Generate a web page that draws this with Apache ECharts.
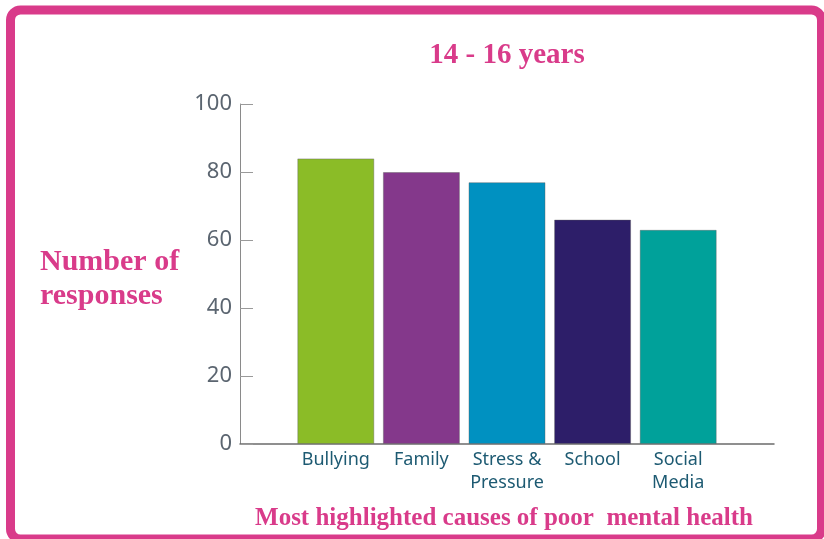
<!DOCTYPE html>
<html>
<head>
<meta charset="utf-8">
<script src="https://cdn.jsdelivr.net/npm/echarts@6/dist/echarts.min.js"></script>
<style>html,body{margin:0;padding:0;background:#fff}#c{width:824px;height:539px}</style>
</head>
<body>
<div id="c"></div>
<script>
const categories = ['Bullying', 'Family', 'Stress &\nPressure', 'School', 'Social\nMedia'];
const values = [84, 80, 77, 66, 63];
const barColors = ['#8bbc27', '#84388b', '#0091c1', '#2d1e69', '#00a19a'];
const yTicks = [0, 20, 40, 60, 80, 100];
const titleText = '14 - 16 years';
const yTitle = 'Number of\nresponses';
const xTitle = 'Most highlighted causes of poor  mental health';

const pink = '#d93b8a';
const chart = echarts.init(document.getElementById('c'), null, {renderer: 'canvas'});
chart.setOption({
  animation: false,
  backgroundColor: '#fff',
  title: [
    {text: titleText, left: 502, top: 36, textAlign: 'center',
     textStyle: {fontFamily: 'Liberation Serif', fontWeight: 900, fontSize: 29, color: pink}},
    {text: yTitle, left: 35, top: 240,
     textStyle: {fontFamily: 'Liberation Serif', fontWeight: 900, fontSize: 30, color: pink, lineHeight: 34}},
    {text: xTitle, left: 499, top: 501, textAlign: 'center',
     textStyle: {fontFamily: 'Liberation Serif', fontWeight: 900, fontSize: 25, color: pink}}
  ],
  graphic: [{
    type: 'rect', shape: {x: 10.5, y: 10, width: 811, height: 529, r: 10},
    style: {fill: 'none', stroke: pink, lineWidth: 9}, silent: true
  }],
  grid: [
    {left: 240, right: 50, top: 104, bottom: 95},
    {left: 293, width: 428, top: 104, bottom: 95}
  ],
  xAxis: [
    {type: 'value', gridIndex: 0, min: 0, max: 1,
     axisLine: {show: true, lineStyle: {color: '#6b6b6b', width: 1.5}},
     axisTick: {show: false}, axisLabel: {show: false}, splitLine: {show: false}},
    {type: 'category', gridIndex: 1, data: categories,
     axisLine: {show: false}, axisTick: {show: false},
     axisLabel: {color: '#1d5a72', fontFamily: 'Noto Sans', fontSize: 18, lineHeight: 23, margin: 4, interval: 0}}
  ],
  yAxis: [
    {type: 'value', gridIndex: 0, min: yTicks[0], max: yTicks[yTicks.length - 1], interval: 20,
     axisLine: {show: true, lineStyle: {color: '#8a8a8a', width: 1}},
     axisTick: {show: true, inside: true, length: 13, lineStyle: {color: '#9a9a9a'}},
     axisLabel: {color: '#5b6570', fontFamily: 'Noto Sans', fontSize: 22, margin: 8},
     splitLine: {show: false}},
    {type: 'value', gridIndex: 1, min: 0, max: 100, show: false, splitLine: {show: false}}
  ],
  series: [{
    type: 'bar', xAxisIndex: 1, yAxisIndex: 1, barWidth: 77,
    data: values.map((v, i) => ({value: v, itemStyle: {color: barColors[i]}})),
    itemStyle: {borderColor: 'rgba(90,90,90,0.4)', borderWidth: 1}
  }]
});
</script>
</body>
</html>
